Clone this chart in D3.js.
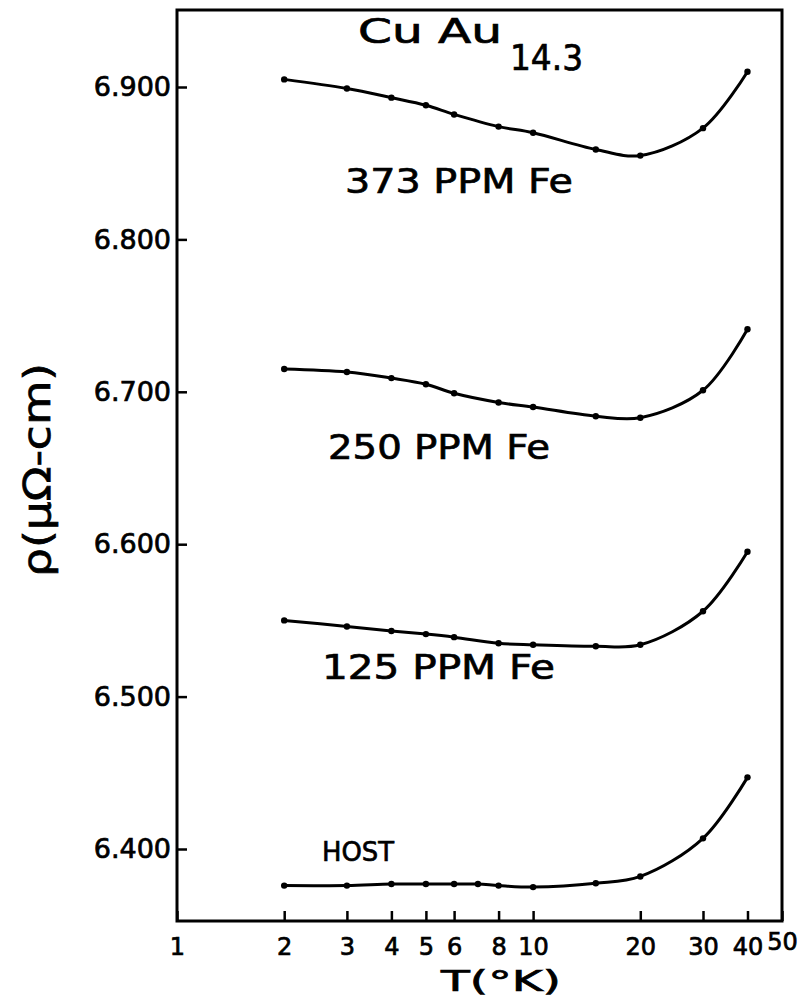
<!DOCTYPE html>
<html>
<head>
<meta charset="utf-8">
<script src="https://cdn.jsdelivr.net/npm/d3@7"></script>
<style>
  html, body { margin: 0; padding: 0; background: #fff; }
  svg text { font-family: "DejaVu Sans", sans-serif; fill: #000; stroke: #000; stroke-width: 0.7px; }
</style>
</head>
<body>
<svg id="chart" width="808" height="999"></svg>
<script>
// Temperatures (K) at which resistivity was measured
const temps = [2, 3, 4, 5, 6, 8, 10, 15, 20, 30, 40];
const hostTemps = [2, 3, 4, 5, 6, 7, 8, 10, 15, 20, 30, 40];

// Resistivity (micro-ohm cm) for each Fe concentration
const fe373 = [6.905, 6.899, 6.893, 6.888, 6.882, 6.874, 6.870, 6.859, 6.855, 6.873, 6.910];
const fe250 = [6.715, 6.713, 6.709, 6.705, 6.699, 6.693, 6.690, 6.684, 6.683, 6.701, 6.741];
const fe125 = [6.550, 6.546, 6.543, 6.541, 6.539, 6.535, 6.534, 6.533, 6.534, 6.556, 6.595];
const host  = [6.376, 6.376, 6.377, 6.377, 6.377, 6.377, 6.376, 6.375, 6.3775, 6.382, 6.407, 6.447];

const seriesLabels = ["373 PPM Fe", "250 PPM Fe", "125 PPM Fe", "HOST"];

// Axis ticks
const xTicks = [1, 2, 3, 4, 5, 6, 8, 10, 20, 30, 40, 50];
const yTicks = [6.4, 6.5, 6.6, 6.7, 6.8, 6.9];

const svg = d3.select("#chart");

const frame = { left: 177, right: 782, top: 10, bottom: 921 };

const x = d3.scaleLog().domain([1, 50]).range([frame.left, frame.right]);
const y = d3.scaleLinear().domain([6.4, 6.9]).range([849, 87]);

// Plot frame
svg.append("rect")
  .attr("x", frame.left).attr("y", frame.top)
  .attr("width", frame.right - frame.left)
  .attr("height", frame.bottom - frame.top)
  .attr("fill", "none").attr("stroke", "#000").attr("stroke-width", 3);

// Bottom axis: ticks point inward
const xAxis = svg.append("g")
  .attr("transform", `translate(0,${frame.bottom})`)
  .call(d3.axisBottom(x).tickValues(xTicks).tickSize(-10).tickSizeOuter(0)
    .tickPadding(17).tickFormat(d3.format("d")));
xAxis.select(".domain").remove();
xAxis.selectAll(".tick line").attr("stroke", "#000").attr("stroke-width", 2.5);
xAxis.selectAll(".tick text").style("font-size", "24px");
xAxis.selectAll(".tick text").filter(d => d === 50).attr("y", 12);

// Left axis: ticks point inward
const yAxis = svg.append("g")
  .attr("transform", `translate(${frame.left},0)`)
  .call(d3.axisLeft(y).tickValues(yTicks).tickSize(-10).tickSizeOuter(0)
    .tickPadding(6).tickFormat(d3.format(".3f")));
yAxis.select(".domain").remove();
yAxis.selectAll(".tick line").attr("stroke", "#000").attr("stroke-width", 2.5);
yAxis.selectAll(".tick text").style("font-size", "27px");

// Curves and measured points
const line = d3.line()
  .x(d => x(d.t))
  .y(d => y(d.r))
  .curve(d3.curveCatmullRom.alpha(0.5));

const series = [
  { t: temps, r: fe373 },
  { t: temps, r: fe250 },
  { t: temps, r: fe125 },
  { t: hostTemps, r: host }
].map(s => s.t.map((t, i) => ({ t, r: s.r[i] })));

const groups = svg.selectAll("g.series").data(series).join("g").attr("class", "series");
groups.append("path")
  .attr("d", line)
  .attr("fill", "none")
  .attr("stroke", "#000")
  .attr("stroke-width", 3);
groups.selectAll("circle").data(d => d).join("circle")
  .attr("cx", d => x(d.t))
  .attr("cy", d => y(d.r))
  .attr("r", 3.2)
  .attr("fill", "#000");

// Series labels
const labelPos = [
  { x: 345, y: 193, size: 34, len: 228 },
  { x: 328, y: 459, size: 34, len: 222 },
  { x: 322, y: 679, size: 34, len: 233 },
  { x: 322, y: 861, size: 27, len: 72 }
];
svg.selectAll("text.series-label").data(seriesLabels).join("text")
  .attr("class", "series-label")
  .attr("x", (d, i) => labelPos[i].x)
  .attr("y", (d, i) => labelPos[i].y)
  .attr("textLength", (d, i) => labelPos[i].len)
  .attr("lengthAdjust", "spacingAndGlyphs")
  .style("font-size", (d, i) => labelPos[i].size + "px")
  .text(d => d);

// Alloy title with subscript composition
svg.append("text")
  .attr("x", 358).attr("y", 43)
  .attr("textLength", 144).attr("lengthAdjust", "spacingAndGlyphs")
  .style("font-size", "33px")
  .text("Cu Au");
svg.append("text")
  .attr("x", 510).attr("y", 70)
  .attr("textLength", 73).attr("lengthAdjust", "spacingAndGlyphs")
  .style("font-size", "36px")
  .text("14.3");

// Axis titles
svg.append("text")
  .attr("x", 501).attr("y", 991)
  .attr("text-anchor", "middle")
  .attr("textLength", 120).attr("lengthAdjust", "spacingAndGlyphs")
  .style("font-size", "28px")
  .text("T(°K)");

svg.append("text")
  .attr("transform", "translate(50,470) rotate(-90)")
  .attr("text-anchor", "middle")
  .attr("textLength", 214).attr("lengthAdjust", "spacingAndGlyphs")
  .style("font-size", "38px")
  .text("ρ(μΩ-cm)");
</script>
</body>
</html>
